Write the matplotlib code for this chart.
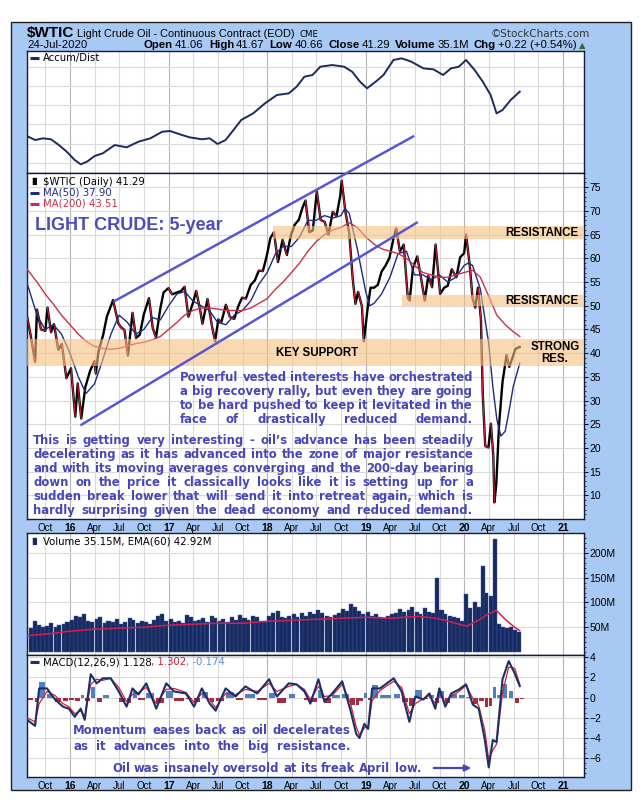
import matplotlib
matplotlib.use('Agg')
import matplotlib.pyplot as plt
import numpy as np
import pandas as pd
from matplotlib.patches import Rectangle

W, H = 643, 810

# ---------------- data ----------------
price_dates = [
    '2015-07-24', '2015-08-07', '2015-08-24', '2015-08-31', '2015-09-15', '2015-10-01', '2015-10-09',
    '2015-10-22', '2015-11-02', '2015-11-18', '2015-12-01', '2015-12-18',
    '2016-01-04', '2016-01-20', '2016-01-29', '2016-02-11', '2016-02-26', '2016-03-15', '2016-03-31',
    '2016-04-05', '2016-04-15', '2016-05-02', '2016-05-16', '2016-06-08', '2016-06-27', '2016-07-08',
    '2016-07-20', '2016-08-02', '2016-08-19', '2016-09-01', '2016-09-15', '2016-09-30', '2016-10-19',
    '2016-11-02', '2016-11-14', '2016-11-30', '2016-12-12', '2016-12-30',
    '2017-01-13', '2017-01-31', '2017-02-15', '2017-02-28', '2017-03-14', '2017-03-31', '2017-04-12',
    '2017-04-27', '2017-05-05', '2017-05-24', '2017-06-09', '2017-06-21', '2017-07-03', '2017-07-14',
    '2017-07-31', '2017-08-15', '2017-08-31', '2017-09-15', '2017-09-29', '2017-10-13', '2017-10-31',
    '2017-11-15', '2017-11-30', '2017-12-15', '2017-12-29',
    '2018-01-12', '2018-01-25', '2018-02-09', '2018-02-26', '2018-03-14', '2018-03-29', '2018-04-12',
    '2018-04-27', '2018-05-11', '2018-05-22', '2018-06-05', '2018-06-18', '2018-07-03', '2018-07-17',
    '2018-08-01', '2018-08-15', '2018-08-31', '2018-09-14', '2018-09-28', '2018-10-03', '2018-10-17',
    '2018-10-31', '2018-11-13', '2018-11-23', '2018-12-03', '2018-12-17', '2018-12-24',
    '2019-01-08', '2019-01-18', '2019-01-31', '2019-02-14', '2019-02-28', '2019-03-15', '2019-03-29',
    '2019-04-12', '2019-04-23', '2019-05-07', '2019-05-21', '2019-06-05', '2019-06-12', '2019-06-24',
    '2019-07-10', '2019-07-24', '2019-08-07', '2019-08-20', '2019-09-03', '2019-09-16', '2019-10-03',
    '2019-10-18', '2019-10-31', '2019-11-15', '2019-12-02', '2019-12-16', '2019-12-31',
    '2020-01-07', '2020-01-21', '2020-01-31', '2020-02-10', '2020-02-20', '2020-03-02', '2020-03-09',
    '2020-03-18', '2020-03-30', '2020-04-08', '2020-04-17', '2020-04-21', '2020-04-28', '2020-05-08',
    '2020-05-21', '2020-06-05', '2020-06-15', '2020-06-25', '2020-07-08', '2020-07-24']
price_close = [
    48.1, 43.9, 38.2, 49.2, 45.0, 44.7, 49.6, 44.4, 46.1, 40.7, 41.9, 34.7,
    36.8, 26.6, 33.6, 26.2, 32.8, 36.3, 38.3, 35.7, 40.4, 43.8, 47.7, 51.2, 46.3, 45.4, 44.9, 39.5,
    48.5, 43.2, 43.9, 48.2, 51.6, 45.3, 43.3, 49.4, 52.8, 53.7,
    52.4, 52.8, 53.1, 54.0, 47.7, 50.6, 53.1, 49.0, 46.2, 51.4, 45.8, 42.5, 47.1, 46.5, 50.2, 47.6,
    47.2, 49.9, 51.7, 51.5, 54.4, 55.3, 57.4, 57.3, 60.4,
    64.3, 65.5, 59.2, 63.9, 60.7, 64.9, 67.1, 68.1, 70.7, 72.2, 65.5, 65.9, 74.1, 68.1, 67.7, 65.0,
    69.8, 68.9, 73.3, 76.4, 69.8, 65.3, 55.7, 50.4, 52.9, 49.9, 42.5,
    49.8, 53.8, 53.8, 54.4, 57.2, 58.5, 60.1, 63.9, 66.3, 61.4, 62.9, 51.7, 51.1, 57.9, 60.4, 55.9,
    51.1, 56.3, 53.9, 62.9, 52.5, 53.8, 54.2, 57.7, 56.0, 60.2, 61.1,
    65.0, 58.3, 51.6, 49.6, 53.8, 47.2, 31.1, 20.4, 20.1, 25.1, 18.3, 8.5, 12.3, 24.7, 33.9, 39.6,
    37.1, 38.7, 40.9, 41.3]

ma50_dates = [
    '2015-07-24', '2015-08-31', '2015-09-30', '2015-10-31', '2015-11-30', '2015-12-31', '2016-01-31',
    '2016-02-29', '2016-03-31', '2016-04-30', '2016-05-31', '2016-06-30', '2016-07-31', '2016-08-31',
    '2016-09-30', '2016-10-31', '2016-11-30', '2016-12-31', '2017-01-31', '2017-02-28', '2017-03-31',
    '2017-04-30', '2017-05-31', '2017-06-30', '2017-07-31', '2017-08-31', '2017-09-30', '2017-10-31',
    '2017-11-30', '2017-12-31', '2018-01-31', '2018-02-28', '2018-03-31', '2018-04-30', '2018-05-31',
    '2018-06-30', '2018-07-31', '2018-08-31', '2018-09-30', '2018-10-15', '2018-10-31', '2018-11-30',
    '2018-12-31', '2019-01-15', '2019-01-31', '2019-02-28', '2019-03-31', '2019-04-30', '2019-05-31',
    '2019-06-30', '2019-07-31', '2019-08-31', '2019-09-30', '2019-10-31', '2019-11-30', '2019-12-31',
    '2020-01-15', '2020-01-31', '2020-02-29', '2020-03-31', '2020-04-15', '2020-04-30', '2020-05-15',
    '2020-05-31', '2020-06-15', '2020-06-30', '2020-07-24']
ma50 = [
    55.0, 48.0, 45.0, 46.0, 44.0, 40.0, 35.0, 31.5, 33.5, 38.5, 44.0, 48.0, 46.5, 44.0, 45.0, 47.5,
    47.0, 50.0, 52.5, 53.0, 51.0, 50.0, 49.0, 46.5, 46.0, 48.0, 49.0, 51.0, 54.5, 57.0, 61.0, 62.5,
    62.5, 64.5, 68.0, 68.0, 69.0, 68.5, 69.0, 70.5, 69.5, 62.0, 53.0, 50.0, 50.5, 52.5, 56.0, 61.0,
    61.5, 56.5, 56.5, 55.5, 56.5, 55.0, 56.0, 58.5, 59.0, 58.5, 53.5, 42.0, 33.0, 26.0, 22.5, 23.5,
    28.0, 33.0, 37.9]

ma200_dates = [
    '2015-07-24', '2015-08-31', '2015-09-30', '2015-10-31', '2015-11-30', '2015-12-31', '2016-01-31',
    '2016-02-29', '2016-03-31', '2016-04-30', '2016-05-31', '2016-06-30', '2016-07-31', '2016-08-31',
    '2016-09-30', '2016-10-31', '2016-11-30', '2016-12-31', '2017-01-31', '2017-02-28', '2017-03-31',
    '2017-04-30', '2017-05-31', '2017-06-30', '2017-07-31', '2017-08-31', '2017-09-30', '2017-10-31',
    '2017-11-30', '2017-12-31', '2018-01-31', '2018-02-28', '2018-03-31', '2018-04-30', '2018-05-31',
    '2018-06-30', '2018-07-31', '2018-08-31', '2018-09-30', '2018-10-31', '2018-11-30', '2018-12-31',
    '2019-01-31', '2019-02-28', '2019-03-31', '2019-04-30', '2019-05-31', '2019-06-30', '2019-07-31',
    '2019-08-31', '2019-09-30', '2019-10-31', '2019-11-30', '2019-12-31', '2020-01-31', '2020-02-29',
    '2020-03-31', '2020-04-30', '2020-05-31', '2020-06-30', '2020-07-24']
ma200 = [
    57.8, 55.0, 52.5, 50.3, 48.0, 46.0, 44.0, 42.5, 41.4, 41.0, 40.8, 41.0, 41.5, 42.0, 42.3, 42.8,
    43.5, 45.0, 46.5, 48.0, 49.0, 49.5, 49.5, 49.3, 49.0, 49.0, 49.0, 49.5, 50.5, 51.5, 53.5, 55.0,
    57.0, 59.0, 61.5, 63.5, 65.0, 66.0, 66.5, 67.5, 66.5, 64.5, 63.0, 62.0, 61.5, 61.0, 60.0, 58.5,
    57.0, 56.5, 56.0, 56.0, 56.5, 57.0, 57.5, 56.0, 52.0, 48.0, 46.0, 44.5, 43.51]

ad_dates = [
    '2015-07-25', '2015-08-24', '2015-09-22', '2015-10-22', '2015-11-20', '2015-12-19', '2016-01-18',
    '2016-02-09', '2016-03-03', '2016-04-01', '2016-05-01', '2016-06-14', '2016-07-28', '2016-09-10',
    '2016-10-24', '2016-12-07', '2017-01-05', '2017-02-18', '2017-03-19', '2017-05-03', '2017-06-01',
    '2017-06-30', '2017-07-30', '2017-08-28', '2017-09-26', '2017-11-09', '2017-12-23', '2018-02-05',
    '2018-03-21', '2018-04-19', '2018-05-18', '2018-06-17', '2018-07-16', '2018-08-29', '2018-10-12',
    '2018-11-11', '2018-12-10', '2019-01-05', '2019-02-06', '2019-03-07', '2019-04-13', '2019-05-13',
    '2019-06-18', '2019-08-02', '2019-09-08', '2019-10-14', '2019-11-12', '2019-12-11', '2020-01-07',
    '2020-02-08', '2020-03-09', '2020-04-07', '2020-04-29', '2020-05-21', '2020-06-20', '2020-07-24']
ad_vals = [
    28.3, 25.0, 26.4, 25.6, 20.8, 15.3, 8.3, 4.7, 6.9, 11.7, 13.9, 20.8, 18.9, 23.6, 26.4, 31.9,
    32.5, 29.2, 27.2, 25.6, 26.4, 21.7, 25.0, 33.3, 41.7, 47.2, 55.6, 62.5, 63.9, 69.4, 77.8, 79.2,
    86.1, 87.5, 86.1, 81.9, 73.6, 68.1, 73.6, 79.2, 91.7, 93.1, 90.3, 84.7, 83.9, 79.2, 84.7, 86.1,
    91.7, 83.3, 73.6, 62.5, 47.2, 50.0, 58.3, 65.3]

# volume, millions, one bar per half month (Aug 2015 .. mid Jul 2020)
vol_vals = [
    48, 62, 55, 50, 52, 58, 50, 54, 56, 60,
    64, 72, 70, 76, 62, 60, 66, 70, 58, 62, 60, 66, 56, 60, 68, 64, 58, 62, 60, 56, 64, 72, 76, 62,
    66, 60, 62, 58, 74, 70, 62, 64, 68, 60, 72, 68, 62, 66, 60, 70, 64, 74, 68, 64, 72, 70, 62, 60,
    72, 78, 82, 70, 68, 72, 76, 70, 78, 72, 80, 76, 84, 78, 72, 70, 74, 78, 86, 82, 96, 90, 82, 76,
    80, 72, 76, 70, 68, 72, 76, 78, 86, 80, 84, 90, 80, 76, 88, 80, 78, 150, 84, 76, 72, 70, 68, 62,
    116, 88, 100, 90, 174, 120, 112, 228, 56, 50, 48, 50, 44, 40]
vol_dates = pd.date_range('2015-08-01', '2020-07-15', freq='SMS')

ema_dates = [
    '2015-07-24', '2015-10-01', '2016-01-01', '2016-04-01', '2016-07-01', '2016-10-01', '2017-01-01',
    '2017-04-01', '2017-07-01', '2017-10-01', '2018-01-01', '2018-04-01', '2018-07-01', '2018-10-01',
    '2019-01-01', '2019-04-01', '2019-07-15', '2019-09-20', '2019-11-30', '2020-01-10', '2020-02-28',
    '2020-03-20', '2020-04-28', '2020-05-31', '2020-06-30', '2020-07-24']
ema_vals = [33, 36, 42, 46, 48, 50, 54, 56, 58, 58, 62, 64, 66, 68, 70, 68, 72, 68, 58, 52, 66,
            74, 84, 66, 52, 42.92]

macd_dates = [
    '2015-07-25', '2015-08-24', '2015-09-08', '2015-10-07', '2015-11-06', '2015-12-05', '2015-12-27',
    '2016-01-18', '2016-02-09', '2016-02-24', '2016-03-17', '2016-04-08', '2016-05-01', '2016-05-30',
    '2016-06-29', '2016-07-28', '2016-08-19', '2016-09-10', '2016-10-09', '2016-11-15', '2016-12-22',
    '2017-01-20', '2017-03-05', '2017-04-04', '2017-05-03', '2017-06-01', '2017-06-23', '2017-07-30',
    '2017-09-05', '2017-10-11', '2017-11-24', '2018-01-07', '2018-02-05', '2018-03-21', '2018-04-19',
    '2018-05-18', '2018-06-09', '2018-07-09', '2018-07-31', '2018-08-29', '2018-10-05', '2018-11-04',
    '2018-11-26', '2018-12-08', '2018-12-26', '2019-01-09', '2019-01-24', '2019-02-22', '2019-04-14',
    '2019-05-13', '2019-06-11', '2019-07-03', '2019-08-02', '2019-08-24', '2019-09-15', '2019-09-30',
    '2019-10-22', '2019-11-13', '2019-12-12', '2020-01-07', '2020-02-01', '2020-02-23', '2020-03-16',
    '2020-03-31', '2020-04-15', '2020-04-29', '2020-05-21', '2020-06-13', '2020-07-05', '2020-07-24']
macd_line = [
    -2.2, -2.8, 0.9, 0.9, -0.2, -0.9, -1.1, -1.9, -1.1, -2.2, 2.3, 1.4, 1.9, 1.9, 0.6, -0.9, 0.9,
    0.3, 1.4, -1.1, 1.4, 0.6, 0.4, -0.9, 0.9, -0.6, -1.3, 0.9, 0.1, 1.1, 0.4, 1.8, 0.1, 1.4, 1.3,
    0.6, -0.6, 1.8, -0.4, 0.4, 1.6, -1.2, -3.6, -4.0, -2.6, -3.1, 0.9, 0.9, 1.9, 0.6, -2.4, 0.1,
    -0.2, 0.4, -1.1, 0.9, -0.9, 0.4, 0.8, 1.3, -0.7, -1.1, -4.1, -6.9, -4.2, -4.4, 1.8, 3.6, 2.4,
    1.128]
macd_signal = [
    -2.0, -2.4, -0.6, 0.6, 0.2, -0.6, -0.9, -1.6, -1.3, -1.9, 1.3, 1.8, 1.7, 1.9, 1.0, -0.4, 0.3,
    0.5, 1.0, -0.6, 0.8, 0.9, 0.5, -0.5, 0.4, -0.2, -1.0, 0.4, 0.3, 0.8, 0.6, 1.4, 0.6, 1.1, 1.3,
    0.8, -0.2, 1.1, 0.1, 0.2, 1.3, -0.5, -2.9, -3.7, -3.0, -2.9, -0.3, 0.7, 1.6, 1.0, -1.6, -0.6,
    -0.1, 0.2, -0.6, 0.3, -0.4, 0.1, 0.6, 1.2, -0.1, -0.8, -3.2, -6.1, -5.2, -4.6, 0.5, 3.0, 2.9,
    1.302]

# support / resistance zones (price ranges) and the two channel lines
zones = [('2018-01-22', 64.0, 66.8), ('2019-05-15', 49.9, 52.3), ('2015-07-01', 37.3, 43.0)]
channel_upper = (['2016-06-17', '2019-06-25'], [51.1, 85.7])
channel_lower = (['2016-02-12', '2019-07-08'], [24.9, 67.5])

para1 = ["Powerful vested interests have orchestrated",
         "a big recovery rally, but even they are going",
         "to be hard pushed to keep it levitated in the",
         "face of drastically reduced demand."]
para2 = ["This is getting very interesting - oil\u2019s advance has been steadily",
         "decelerating as it has advanced into the zone of major resistance",
         "and with its moving averages converging and the 200-day bearing",
         "down on the price it classically looks like it is setting up for a",
         "sudden break lower that will send it into retreat again, which is",
         "hardly surprising given the dead economy and reduced demand."]
macd_note = ["Momentum eases back as oil decelerates",
             "as it advances into the big resistance."]
april_note = "Oil was insanely oversold at its freak April low."

# ---------------- figure ----------------
X0, X1 = pd.Timestamp('2015-07-25'), pd.Timestamp('2021-03-19')
quarters = pd.date_range('2015-10-01', '2021-01-01', freq='QS')
NOTE = '#4646b8'
ARIAL = ['Liberation Sans', 'DejaVu Sans']
NARROW = ['Liberation Sans Narrow', 'Liberation Sans', 'DejaVu Sans']

fig = plt.figure(figsize=(W / 100, H / 100), dpi=100)
fig.patch.set_facecolor('white')
fig.patches.append(Rectangle((11 / W, 1 - 790 / H), 620 / W, 768 / H, transform=fig.transFigure,
                             facecolor='#a8c9f3', edgecolor='#202020', lw=1, zorder=-10))


def panel(top, bottom):
    ax = fig.add_axes([27 / W, 1 - bottom / H, 557 / W, (bottom - top) / H])
    ax.set_xlim(X0, X1)
    for s in ax.spines.values():
        s.set_color('#141c3c')
        s.set_linewidth(1.0)
    ax.yaxis.tick_right()
    ax.tick_params(axis='y', which='major', direction='out', length=3, width=0.7,
                   labelsize=7.5, pad=1)
    ax.tick_params(axis='y', which='minor', direction='out', length=1.5, width=0.5)
    ax.tick_params(axis='x', length=0, labelsize=7, pad=3)
    for q in quarters:
        ax.axvline(q, color='#b5b5b5' if q.month == 1 else '#dadada', lw=0.8, zorder=0)
    ax.set_xticks(quarters)
    ax.set_xticklabels([])
    ax.grid(axis='y', color='#dadada', lw=0.8)
    ax.set_axisbelow(True)
    for lbl in ax.get_yticklabels():
        lbl.set_family(ARIAL)
    return ax


def date_labels(ax):
    ax.set_xticklabels([q.strftime('%y') if q.month == 1 else q.strftime('%b') for q in quarters],
                       family=ARIAL)
    for q, lbl in zip(quarters, ax.get_xticklabels()):
        if q.month == 1:
            lbl.set_fontweight('bold')
            lbl.set_fontsize(7.5)


def legend_line(ax, y, color):
    ax.plot([0.006, 0.022], [y, y], transform=ax.transAxes, color=color, lw=2.2,
            solid_capstyle='butt', clip_on=False)


# Accum/Dist panel
ax_ad = panel(51, 173)
ax_ad.plot(pd.to_datetime(ad_dates), ad_vals, color='#1b2c5c', lw=1.4)
ax_ad.set_ylim(-2.5, 99.2)
ax_ad.set_yticks(np.arange(6, 99, 16))
ax_ad.tick_params(axis='y', length=0, labelright=False)
legend_line(ax_ad, 0.945, '#1b2c5c')
ax_ad.text(0.028, 0.945, 'Accum/Dist', transform=ax_ad.transAxes, fontsize=7.3, va='center')

# price panel
ax = panel(173, 519)
pdates = pd.to_datetime(price_dates)
ax.plot(pdates, price_close, color='black', lw=1.7, zorder=3)
for i in range(1, len(price_close)):
    if price_close[i] < price_close[i - 1]:
        ax.plot(pdates[i - 1:i + 1], price_close[i - 1:i + 1], color='#d0203a', lw=0.8, zorder=3)
ax.plot(pd.to_datetime(ma50_dates), ma50, color='#1f2a80', lw=1.0, zorder=3)
ax.plot(pd.to_datetime(ma200_dates), ma200, color='#c83048', lw=1.0, zorder=3)
for start, lo, hi in zones:
    ax.fill_between([pd.Timestamp(start), X1], lo, hi, color='#f5c080', alpha=0.6, lw=0, zorder=4)
for xs, ys in (channel_upper, channel_lower):
    ax.plot(pd.to_datetime(xs), ys, color='#5a56d2', lw=1.8, clip_on=False, zorder=5)
ax.set_ylim(5.0, 78.0)
ax.set_yticks(range(10, 80, 5))
ax.set_yticks(range(6, 78), minor=True)
date_labels(ax)

legend_line(ax, 0.943, '#1f2a80')
legend_line(ax, 0.911, '#c83048')
ax.text(0.028, 0.975, '$WTIC (Daily) 41.29', transform=ax.transAxes, fontsize=7.3, va='center')
ax.text(0.028, 0.943, 'MA(50) 37.90', transform=ax.transAxes, fontsize=7.3, va='center',
        color='#1f2a80')
ax.text(0.028, 0.911, 'MA(200) 43.51', transform=ax.transAxes, fontsize=7.3, va='center',
        color='#c83048')
ax.text(0.004, 0.975, '\u2590\u258c', transform=ax.transAxes, fontsize=5, va='center')

lbl_x = pd.Timestamp('2021-02-25')
ax.text(lbl_x, 65.3, 'RESISTANCE', ha='right', va='center', fontsize=8.3, weight='bold',
        family=ARIAL, zorder=6)
ax.text(lbl_x, 50.9, 'RESISTANCE', ha='right', va='center', fontsize=8.3, weight='bold',
        family=ARIAL, zorder=6)
ax.text(pd.Timestamp('2020-12-01'), 40.0, 'STRONG\nRES.', ha='center', va='center', fontsize=8.3,
        weight='bold', family=ARIAL, linespacing=1.0, zorder=6)
ax.text(pd.Timestamp('2018-07-05'), 40.0, 'KEY SUPPORT', ha='center', va='center', fontsize=8.3,
        weight='bold', family=ARIAL, zorder=6)

# volume panel
ax_v = panel(533, 655)
ax_v.bar(vol_dates + pd.Timedelta(days=7), vol_vals, width=15, color='#1b2a5e',
         edgecolor='#2f5ea8', lw=0.3, zorder=2)
ax_v.plot(pd.to_datetime(ema_dates), ema_vals, color='#d02050', lw=1.1, zorder=3)
ax_v.set_ylim(-6, 240)
ax_v.set_yticks([50, 100, 150, 200])
ax_v.set_yticklabels(['50M', '100M', '150M', '200M'], family=ARIAL)
ax_v.set_yticks(range(0, 240, 10), minor=True)
ax_v.text(0.028, 0.934, 'Volume 35.15M, EMA(60) 42.92M', transform=ax_v.transAxes, fontsize=7.3,
          va='center')
ax_v.text(0.004, 0.934, '\u2590\u258c', transform=ax_v.transAxes, fontsize=5, va='center',
          color='#1b2a5e')

# MACD panel
ax_m = panel(655, 777)
mdates_ = pd.to_datetime(macd_dates)
hist = np.array(macd_line) - np.array(macd_signal)
widths = np.diff(mdates_).astype('timedelta64[D]').astype(float)
widths = np.append(widths, widths[-1])
ax_m.bar(mdates_, hist, width=widths * 0.8, align='edge',
         color=['#4f80bb' if h >= 0 else '#a32c40' for h in hist], lw=0, zorder=2)
ax_m.plot(mdates_, macd_signal, color='#d0203a', lw=0.9, zorder=3)
ax_m.plot(mdates_, macd_line, color='#1c2f66', lw=1.5, zorder=4)
ax_m.set_ylim(-7.85, 4.2)
ax_m.set_yticks([-6, -4, -2, 0, 2, 4])
ax_m.set_yticks(np.arange(-7.5, 4.2, 0.5), minor=True)
date_labels(ax_m)
legend_line(ax_m, 0.94, '#1c2f66')
t = ax_m.text(0.028, 0.94, 'MACD(12,26,9) 1.128', transform=ax_m.transAxes, fontsize=7.3,
              va='center')
fig.canvas.draw()
r = fig.canvas.get_renderer()
bb = t.get_window_extent(r)
t2 = fig.text(bb.x1 / W, bb.y0 / H, ', 1.302', fontsize=7.3, color='#c8203c', va='bottom')
bb2 = t2.get_window_extent(r)
fig.text(bb2.x1 / W, bb.y0 / H, ', -0.174', fontsize=7.3, color='#5f8fc8', va='bottom')


# ---------------- text helpers ----------------
def justify(lines, x0, x1, y, dy, size):
    # y is the visual middle of the first line, in pixels from the top
    for line in lines:
        words = line.split()
        base = 1 - (y + 0.36 * size * 100 / 72) / H
        objs = [fig.text(0, base, w_, fontsize=size, weight='bold', color=NOTE,
                         family='DejaVu Sans', va='baseline', ha='left') for w_ in words]
        widths_ = [o.get_window_extent(r).width for o in objs]
        gap = (x1 - x0 - sum(widths_)) / max(len(words) - 1, 1)
        x = x0
        for o, w_ in zip(objs, widths_):
            o.set_x(x / W)
            x += w_ + gap
        y += dy


def run(x, y, parts):
    for s, kw, gap in parts:
        o = fig.text(x / W, 1 - y / H, s, ha='left', va='baseline', **kw)
        x += o.get_window_extent(r).width + gap
    return x


justify(para1, 180, 473, 377, 14, 8.4)
justify(para2, 33, 473, 440, 14, 8.4)
justify(macd_note, 73, 350, 730, 16, 8.5)
justify([april_note], 112, 421, 768, 16, 8.4)
fig.text(35 / W, 1 - 225 / H, 'LIGHT CRUDE: 5-year', fontsize=13, weight='bold', color='#4b4bbd',
         family=ARIAL, va='center')
ax_m.annotate('', xy=(474 / W, 1 - 768 / H), xytext=(431 / W, 1 - 768 / H),
              xycoords='figure fraction', textcoords='figure fraction',
              arrowprops=dict(arrowstyle='-|>', color=NOTE, lw=1.6, mutation_scale=9))

# header
hb = dict(family=NARROW, weight='bold', fontsize=8.2)
hr = dict(family=NARROW, fontsize=8.2)
run(27, 37, [('$WTIC', dict(family=NARROW, weight='bold', fontsize=11), 3),
             ('Light Crude Oil - Continuous Contract (EOD)', dict(family=NARROW, fontsize=7.9), 4),
             ('CME', dict(family='DejaVu Sans', fontsize=6.2), 0)])
fig.text(590 / W, 1 - 37 / H, '\u00a9StockCharts.com', ha='right', va='baseline', fontsize=7.5,
         family='DejaVu Sans', color='#333333')
run(27, 48, [('24-Jul-2020', hr, 0)])
run(144, 48, [('Open', hb, 2), ('41.06', hr, 5), ('High', hb, 2), ('41.67', hr, 5),
              ('Low', hb, 2), ('40.66', hr, 5), ('Close', hb, 2), ('41.29', hr, 5),
              ('Volume', hb, 2), ('35.1M', hr, 5), ('Chg', hb, 2), ('+0.22 (+0.54%)', hr, 2),
              ('\u25b2', dict(family='DejaVu Sans', fontsize=6, color='#2c6a2c'), 0)])

fig.savefig('out.png', dpi=100)
